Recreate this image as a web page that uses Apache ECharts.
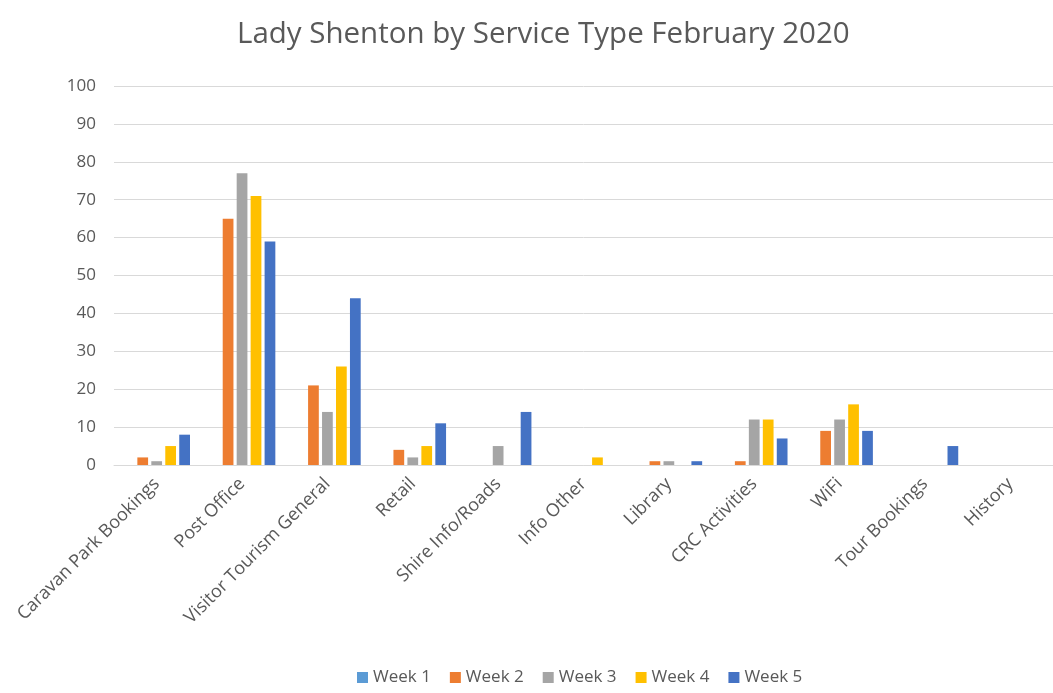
<!DOCTYPE html>
<html>
<head>
<meta charset="utf-8">
<script src="https://cdn.jsdelivr.net/npm/echarts@6/dist/echarts.min.js"></script>
<style>html,body{margin:0;padding:0;background:#fff}#c{width:1053px;height:693px}</style>
</head>
<body>
<div id="c"></div>
<script>
const titleText = 'Lady Shenton by Service Type February 2020';
const categories = ['Caravan Park Bookings','Post Office','Visitor Tourism General','Retail','Shire Info/Roads','Info Other','Library','CRC Activities','WiFi','Tour Bookings','History'];
const seriesNames = ['Week 1','Week 2','Week 3','Week 4','Week 5'];
const week1 = [0,0,0,0,0,0,0,0,0,0,0];
const week2 = [2,65,21,4,0,0,1,1,9,0,0];
const week3 = [1,77,14,2,5,0,1,12,12,0,0];
const week4 = [5,71,26,5,0,2,0,12,16,0,0];
const week5 = [8,59,44,11,14,0,1,7,9,5,0];
const yTicks = {min:0, max:100, interval:10};
const colors = ['#5B9BD5','#ED7D31','#A5A5A5','#FFC000','#4472C4'];

const allData = [week1,week2,week3,week4,week5];
const font = 'Open Sans';
const chart = echarts.init(document.getElementById('c'));
chart.setOption({
  animation:false,
  color: colors,
  title:{text:titleText,left:232,top:15,textStyle:{fontFamily:font,fontSize:29.5,fontWeight:'normal',color:'#595959'}},
  legend:{bottom:2,left:352,itemWidth:11,itemHeight:11,itemGap:19,icon:'rect',
    textStyle:{fontFamily:font,fontSize:17,color:'#595959'},data:seriesNames},
  grid:{left:114,top:86,width:950,height:379,containLabel:false},
  xAxis:{type:'category',data:categories,
    axisLine:{lineStyle:{color:'#d9d9d9'}},axisTick:{show:false},
    axisLabel:{rotate:45,interval:0,fontFamily:font,fontSize:18,color:'#595959',margin:16}},
  yAxis:{type:'value',min:yTicks.min,max:yTicks.max,interval:yTicks.interval,
    axisLine:{show:false},axisTick:{show:false},
    splitLine:{lineStyle:{color:'#d9d9d9'}},
    axisLabel:{fontFamily:font,fontSize:17,color:'#595959',margin:18}},
  series: seriesNames.map((n,i)=>({name:n,type:'bar',data:allData[i],barGap:'30%',barCategoryGap:'22%'}))
});
</script>
</body>
</html>
